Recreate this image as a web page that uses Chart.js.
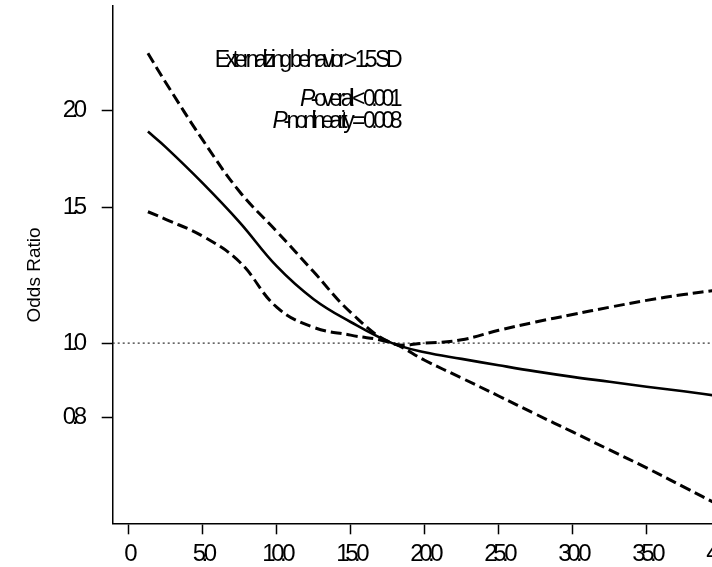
<!DOCTYPE html>
<html><head><meta charset="utf-8">
<script src="https://cdn.jsdelivr.net/npm/chart.js@4.4.1/dist/chart.umd.min.js"></script>
<style>
html,body{margin:0;padding:0;background:#fff;overflow:hidden;width:712px;height:567px}
#wrap{position:absolute;left:0;top:0;width:760px;height:567px}
</style>
</head><body><div id="wrap"><canvas id="c" width="760" height="567"></canvas></div>
<script>
// ---- data ----
const xValues    = [1.3, 2.5, 5, 7.5, 10, 12.5, 15, 17.8, 20, 22.5, 25, 27.5, 30, 32.5, 35, 37.5, 40];
const orEstimate = [1.88, 1.795, 1.612, 1.434, 1.258, 1.14, 1.065, 1.0, 0.973, 0.954, 0.936, 0.919, 0.904, 0.891, 0.878, 0.866, 0.853];
const ciUpper    = [2.375, 2.177, 1.834, 1.571, 1.396, 1.237, 1.096, 1.0, 1.0, 1.010, 1.039, 1.065, 1.089, 1.113, 1.136, 1.156, 1.173];
const ciLower    = [1.48, 1.447, 1.376, 1.274, 1.113, 1.048, 1.024, 1.0, 0.950, 0.901, 0.854, 0.809, 0.767, 0.727, 0.689, 0.651, 0.615];
const xTickValues = [0, 5, 10, 15, 20, 25, 30, 35, 40];
const xTickLabels = ['0', '5.0', '10.0', '15.0', '20.0', '25.0', '30.0', '35.0', '40.0'];
const yTickValues = [0.8, 1.0, 1.5, 2.0];
const yTickLabels = ['0.8', '1.0', '1.5', '2.0'];
const referenceOR = 1.0;
const yAxisTitle = 'Odds Ratio';
const annotationItalic = ['', 'P', 'P'];
const annotationText = ['Externalizing behavior > 1.5 SD', '-overall < 0.001', '-nonlinearity = 0.008'];

// ---- chart ----
const FAMILY = '"Liberation Sans", Arial, Helvetica, sans-serif';
const X_MIN = -1.08, X_MAX = 42.66, Y_MIN = 0.584, Y_MAX = 2.735;
const pts = arr => xValues.map((x, i) => ({x: x, y: arr[i]}));

const textPlugin = {
  id: 'texts',
  beforeDraw(chart) { chart.ctx.letterSpacing = '-4.5px'; },
  afterDraw(chart) {
    const ctx = chart.ctx;
    ctx.letterSpacing = '0px';
    ctx.save();
    ctx.fillStyle = '#000';
    ctx.font = '19px ' + FAMILY;
    ctx.translate(35, 275);
    ctx.rotate(-Math.PI / 2);
    ctx.textAlign = 'center';
    ctx.textBaseline = 'middle';
    ctx.fillText(yAxisTitle, 0, 0);
    ctx.restore();

    ctx.save();
    ctx.fillStyle = '#000';
    ctx.letterSpacing = '-4.5px';
    ctx.textAlign = 'right';
    ctx.textBaseline = 'alphabetic';
    const xr = 398, ys = [67, 106, 128];
    annotationText.forEach((t, i) => {
      ctx.font = '23px ' + FAMILY;
      ctx.fillText(t, xr, ys[i]);
      if (annotationItalic[i]) {
        const w = ctx.measureText(t).width;
        ctx.font = 'italic 23px ' + FAMILY;
        ctx.fillText(annotationItalic[i], xr - w, ys[i]);
      }
    });
    ctx.restore();
    ctx.letterSpacing = '0px';
  }
};

const lineBase = {pointRadius: 0, pointHoverRadius: 0, fill: false, tension: 0.4, borderColor: '#000'};

new Chart(document.getElementById('c'), {
  type: 'line',
  data: {
    datasets: [
      Object.assign({label: 'Odds ratio', data: pts(orEstimate), borderWidth: 2.6}, lineBase),
      Object.assign({label: 'Upper 95% CI', data: pts(ciUpper), borderWidth: 3, borderDash: [11, 5]}, lineBase),
      Object.assign({label: 'Lower 95% CI', data: pts(ciLower), borderWidth: 3, borderDash: [11, 5]}, lineBase),
      {label: 'Reference', data: [{x: X_MIN, y: referenceOR}, {x: X_MAX, y: referenceOR}],
       borderColor: '#333', borderWidth: 1.4, borderDash: [2, 3], pointRadius: 0, tension: 0}
    ]
  },
  options: {
    responsive: false,
    animation: false,
    devicePixelRatio: 1,
    layout: {padding: {top: 6, left: 0, right: 0, bottom: 0}},
    plugins: {legend: {display: false}, tooltip: {enabled: false}, title: {display: false}},
    scales: {
      x: {
        type: 'linear', min: X_MIN, max: X_MAX,
        afterBuildTicks: s => { s.ticks = xTickValues.map(v => ({value: v})); },
        afterFit: s => { s.height = 43.7; s.paddingLeft = 0; s.paddingRight = 0; },
        ticks: {callback: (v, i) => xTickLabels[i], autoSkip: false, maxRotation: 0, minRotation: 0,
                padding: 6, color: '#000', font: {size: 24, family: FAMILY}},
        grid: {drawOnChartArea: false, drawTicks: true, tickLength: 11, tickColor: '#000', tickWidth: 1.5},
        border: {display: true, color: '#000', width: 1.5}
      },
      y: {
        type: 'logarithmic', min: Y_MIN, max: Y_MAX,
        afterBuildTicks: s => { s.ticks = yTickValues.map(v => ({value: v})); },
        afterFit: s => { s.width = 112.7; s.paddingTop = 0; s.paddingBottom = 0; },
        ticks: {callback: (v, i) => yTickLabels[i], autoSkip: false, padding: 19, color: '#000',
                font: {size: 24, family: FAMILY}},
        grid: {drawOnChartArea: false, drawTicks: true, tickLength: 11, tickColor: '#000', tickWidth: 1.5},
        border: {display: true, color: '#000', width: 1.5}
      }
    }
  },
  plugins: [textPlugin]
});
</script>
</body></html>
